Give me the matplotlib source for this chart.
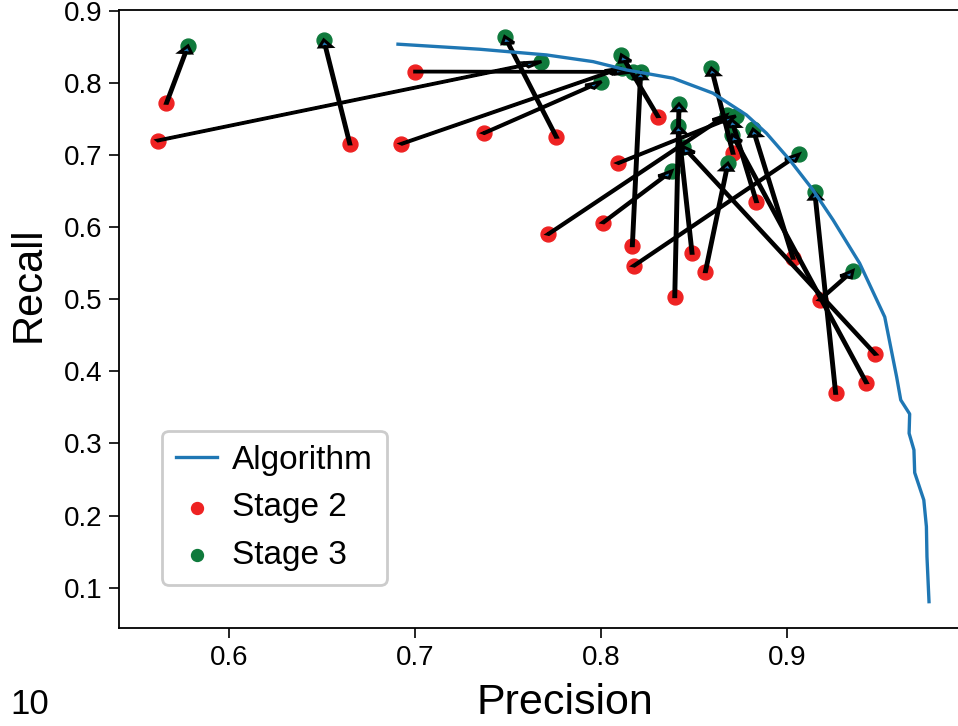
import matplotlib
matplotlib.use('Agg')
import matplotlib.pyplot as plt

# Algorithm precision-recall curve
algo_precision = [0.6910, 0.7349, 0.7708, 0.7959, 0.8138, 0.8389, 0.8604, 0.8783,
                  0.8891, 0.9016, 0.9141, 0.9249, 0.9392, 0.9527, 0.9591, 0.9613,
                  0.9661, 0.9658, 0.9684, 0.9688, 0.9737, 0.9751, 0.9754, 0.9765]
algo_recall = [0.8536, 0.8466, 0.8387, 0.8294, 0.8179, 0.8064, 0.7856, 0.7555,
               0.7301, 0.6931, 0.6515, 0.6099, 0.5498, 0.4753, 0.3921, 0.3602,
               0.3408, 0.3140, 0.2909, 0.2594, 0.2215, 0.1845, 0.1429, 0.0805]

# Stage 2 points
stage2_precision = [0.5617, 0.5665, 0.6651, 0.6928, 0.7000, 0.7371, 0.7762, 0.7717,
                    0.8012, 0.8093, 0.8170, 0.8177, 0.8308, 0.8398, 0.8491, 0.8563,
                    0.8711, 0.8837, 0.9034, 0.9177, 0.9263, 0.9428, 0.9477]
stage2_recall = [0.7199, 0.7717, 0.7153, 0.7153, 0.8156, 0.7301, 0.7246, 0.5900,
                 0.6061, 0.6885, 0.5742, 0.5461, 0.7532, 0.5035, 0.5637, 0.5382,
                 0.7024, 0.6353, 0.5568, 0.4989, 0.3695, 0.3842, 0.4236]

# Stage 3 points (same order as stage 2)
stage3_precision = [0.7681, 0.5781, 0.6511, 0.8113, 0.8172, 0.8004, 0.7484, 0.8677,
                    0.8382, 0.8726, 0.8215, 0.9066, 0.8111, 0.8421, 0.8416, 0.8684,
                    0.8595, 0.8704, 0.8819, 0.9356, 0.9151, 0.8708, 0.8443]
stage3_recall = [0.8294, 0.8512, 0.8595, 0.8207, 0.8152, 0.8017, 0.8641, 0.7555,
                 0.6778, 0.7541, 0.8152, 0.7010, 0.8387, 0.7708, 0.7403, 0.6885,
                 0.8203, 0.7486, 0.7357, 0.5396, 0.6483, 0.7278, 0.7115]

x_ticks = [0.6, 0.7, 0.8, 0.9]
y_ticks = [0.1, 0.2, 0.3, 0.4, 0.5, 0.6, 0.7, 0.8, 0.9]

plt.rcParams['font.family'] = ['Liberation Sans', 'DejaVu Sans']

fig = plt.figure(figsize=(9.58, 7.26), dpi=100)
ax = fig.add_axes([119 / 958, (726 - 628) / 726, 850 / 958, 618 / 726])

ax.plot(algo_precision, algo_recall, color='#1f77b4', lw=2.4, label='Algorithm')
ax.scatter(stage2_precision, stage2_recall, s=115, color='#ee2222', label='Stage 2')
ax.scatter(stage3_precision, stage3_recall, s=115, color='#0f7a3c', label='Stage 3')

for x2, y2, x3, y3 in zip(stage2_precision, stage2_recall, stage3_precision, stage3_recall):
    ax.arrow(x2, y2, x3 - x2, y3 - y2, head_width=0.0065, head_length=0.0095,
             length_includes_head=True, edgecolor='black', linewidth=2.2)

ax.set_xlim(0.541, 0.998)
ax.set_ylim(0.044, 0.901)
ax.set_xticks(x_ticks)
ax.set_yticks(y_ticks)
ax.set_xticklabels([f'{v:.1f}' for v in x_ticks])
ax.set_yticklabels([f'{v:.1f}' for v in y_ticks])
ax.tick_params(labelsize=20, length=7, width=1.2, pad=5)
for sp in ax.spines.values():
    sp.set_linewidth(1.3)

ax.set_xlabel('Precision', fontsize=31)
ax.set_ylabel('Recall', fontsize=30)
ax.xaxis.set_label_coords(0.525, -0.089)
ax.yaxis.set_label_coords(-0.083, 0.557)

leg = ax.legend(loc='lower left', bbox_to_anchor=((162 - 119) / 850, (628 - 585) / 618),
                borderaxespad=0, borderpad=0.42, fontsize=24, handlelength=1.23,
                handletextpad=0.45, markerscale=0.8, labelspacing=0.5,
                fancybox=True, framealpha=1.0, edgecolor='#cccccc')
leg.get_frame().set_linewidth(2)

fig.text(10 / 958, 5 / 726, '10', fontsize=25, ha='left', va='bottom')

fig.savefig('out.png', dpi=100)
